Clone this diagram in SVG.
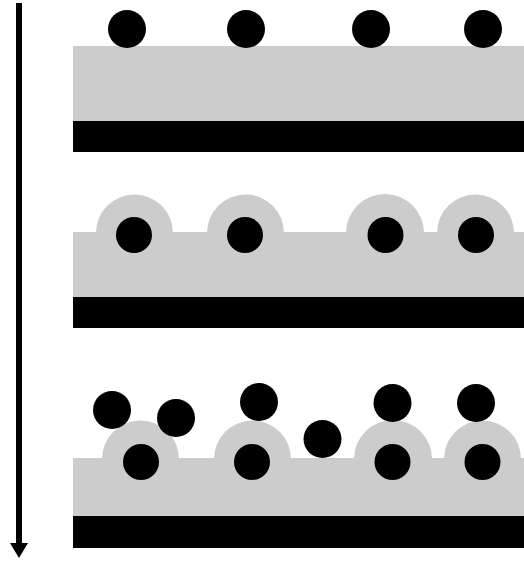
<svg xmlns="http://www.w3.org/2000/svg" width="524" height="563" viewBox="0 0 524 563">
<style>
.g{fill:#cccccc}
.k{fill:#000000}
</style>
<defs>
<marker id="ah" markerWidth="6" markerHeight="6" refX="3" refY="3" orient="auto" markerUnits="userSpaceOnUse" viewBox="0 0 6 6"><path d="M0,0 L6,3 L0,6 Z"/></marker>
</defs>
<rect width="524" height="563" fill="#ffffff"/>
<g id="connectors">
<line x1="19" y1="3" x2="19" y2="545" stroke="#000" stroke-width="6"/>
<path d="M10,543 L28,543 L19,558 Z" fill="#000"/>
</g>
<g id="panel1">
<rect class="g" x="73" y="46" width="451" height="75"/>
<rect class="k" x="73" y="121" width="451" height="31"/>
<circle class="k" cx="127" cy="29" r="19"/>
<circle class="k" cx="246" cy="29" r="19"/>
<circle class="k" cx="371" cy="29" r="19"/>
<circle class="k" cx="483" cy="29" r="19"/>
</g>
<g id="panel2">
<rect class="g" x="73" y="232" width="451" height="65"/>
<path class="g" d="M96,233 A38.5,38.5 0 0 1 173,233 Z"/>
<path class="g" d="M207,233 A38.5,38.5 0 0 1 284,233 Z"/>
<path class="g" d="M346,233 A39,39 0 0 1 424,233 Z"/>
<path class="g" d="M437,233 A38.5,38.5 0 0 1 514,233 Z"/>
<rect class="k" x="73" y="297" width="451" height="31"/>
<circle class="k" cx="134" cy="235" r="18"/>
<circle class="k" cx="245" cy="235" r="18"/>
<circle class="k" cx="385.5" cy="235" r="18"/>
<circle class="k" cx="476" cy="235" r="18"/>
</g>
<g id="panel3">
<rect class="g" x="73" y="458" width="451" height="58"/>
<path class="g" d="M102,459 A38.5,38.5 0 0 1 179,459 Z"/>
<path class="g" d="M214,459 A38.5,38.5 0 0 1 291,459 Z"/>
<path class="g" d="M354,459 A39,39 0 0 1 432,459 Z"/>
<path class="g" d="M444,459 A38.5,38.5 0 0 1 521,459 Z"/>
<rect class="k" x="73" y="516" width="451" height="32"/>
<circle class="k" cx="141" cy="462" r="18"/>
<circle class="k" cx="252" cy="462" r="18"/>
<circle class="k" cx="392.5" cy="462" r="18"/>
<circle class="k" cx="482.5" cy="462" r="18"/>
<circle class="k" cx="112" cy="410" r="19"/>
<circle class="k" cx="176" cy="418" r="19"/>
<circle class="k" cx="259" cy="402" r="19"/>
<circle class="k" cx="322.5" cy="439" r="19"/>
<circle class="k" cx="392.5" cy="403" r="19"/>
<circle class="k" cx="476" cy="403" r="19"/>
</g>
</svg>
